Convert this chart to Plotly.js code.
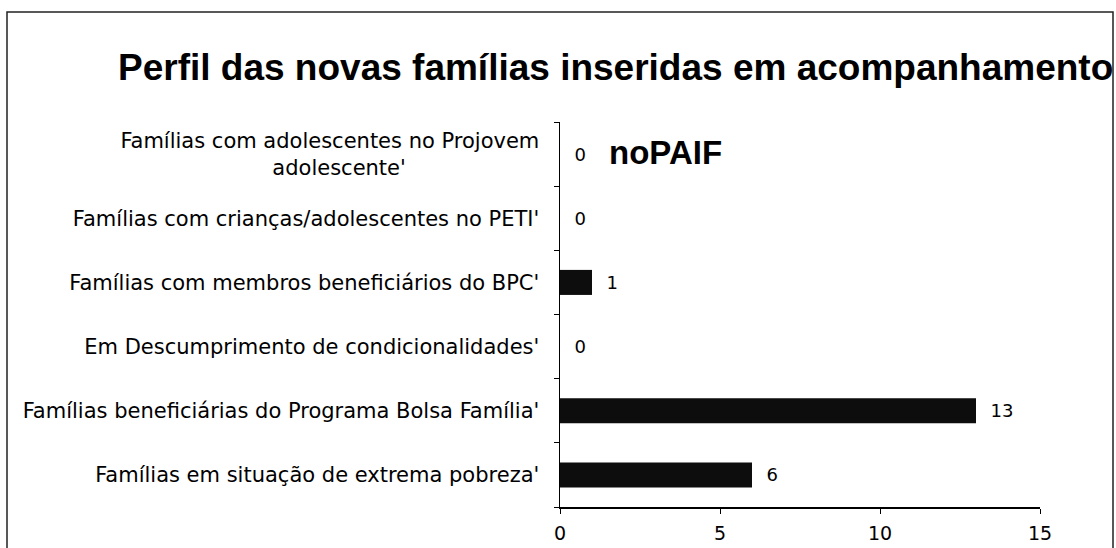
<!DOCTYPE html>
<html>
<head>
<meta charset="utf-8">
<script src="https://cdn.plot.ly/plotly-3.0.1.min.js"></script>
<style>
  html, body { margin: 0; padding: 0; background: #fff; }
  #chart { width: 1116px; height: 548px; }
</style>
</head>
<body>
<div id="chart"></div>
<script>
// categorias de baixo para cima (ordem do Excel)
const categorias = [
  "Famílias em situação de extrema pobreza'",
  "Famílias beneficiárias do Programa Bolsa Família'",
  "Em Descumprimento de condicionalidades'",
  "Famílias com membros beneficiários do BPC'",
  "Famílias com crianças/adolescentes no PETI'",
  "Famílias com adolescentes no Projovem<br>adolescente'" + "\u00a0".repeat(20)
];
const valores = [6, 13, 0, 1, 0, 0];
const xTicks = [0, 5, 10, 15];

const tituloTexto = "Perfil das novas famílias inseridas em acompanhamento";
const subTitulo = "noPAIF";

const fonteRotulo = "DejaVu Sans, Verdana, sans-serif";

const trace = {
  type: "bar",
  orientation: "h",
  x: valores,
  y: categorias,
  marker: {color: "#0d0d0d", line: {width: 0}},
  text: valores.map(v => "\u00a0\u00a0" + v),
  textposition: "outside",
  constraintext: "none",
  cliponaxis: false,
  textfont: {family: fonteRotulo, size: 18, color: "#000"},
  hoverinfo: "none"
};

const layout = {
  width: 1116,
  height: 548,
  margin: {l: 560, r: 76, t: 122, b: 41},
  paper_bgcolor: "white",
  plot_bgcolor: "white",
  showlegend: false,
  bargap: 0.61,
  title: {
    text: "<b>" + tituloTexto + "</b>",
    font: {family: "Liberation Sans, Arial, sans-serif", size: 37, color: "#000"},
    xref: "container", x: 118 / 1116, xanchor: "left",
    yref: "container", y: 1 - 67 / 548, yanchor: "middle"
  },
  xaxis: {
    range: [0, 15],
    tickvals: xTicks,
    ticktext: xTicks.map(String),
    showgrid: false,
    zeroline: false,
    showline: true,
    linecolor: "#000",
    linewidth: 1.5,
    ticks: "outside",
    ticklen: 5,
    tickcolor: "#000",
    ticklabelstandoff: 4,
    tickfont: {family: fonteRotulo, size: 19, color: "#000"}
  },
  yaxis: {
    type: "category",
    showgrid: false,
    zeroline: false,
    showline: true,
    linecolor: "#000",
    linewidth: 1.5,
    ticks: "outside",
    tickson: "boundaries",
    ticklen: 5,
    tickcolor: "#000",
    ticklabelstandoff: 15,
    tickfont: {family: fonteRotulo, size: 21, color: "#000"}
  },
  annotations: [{
    text: "<b>" + subTitulo + "</b>",
    xref: "paper", yref: "paper",
    x: (607 - 560) / 480, y: (507 - 152) / 385,
    xanchor: "left", yanchor: "middle",
    showarrow: false,
    font: {family: "Liberation Sans, Arial, sans-serif", size: 33, color: "#000"}
  }],
  shapes: [{
    type: "rect",
    xref: "paper", yref: "paper",
    x0: (7 - 560) / 480, x1: (1113 - 560) / 480,
    y0: (507 - 560) / 385, y1: (507 - 12) / 385,
    line: {color: "#222", width: 1.5},
    fillcolor: "rgba(0,0,0,0)",
    layer: "below"
  }]
};

Plotly.newPlot("chart", [trace], layout, {displayModeBar: false, staticPlot: true});
</script>
</body>
</html>
